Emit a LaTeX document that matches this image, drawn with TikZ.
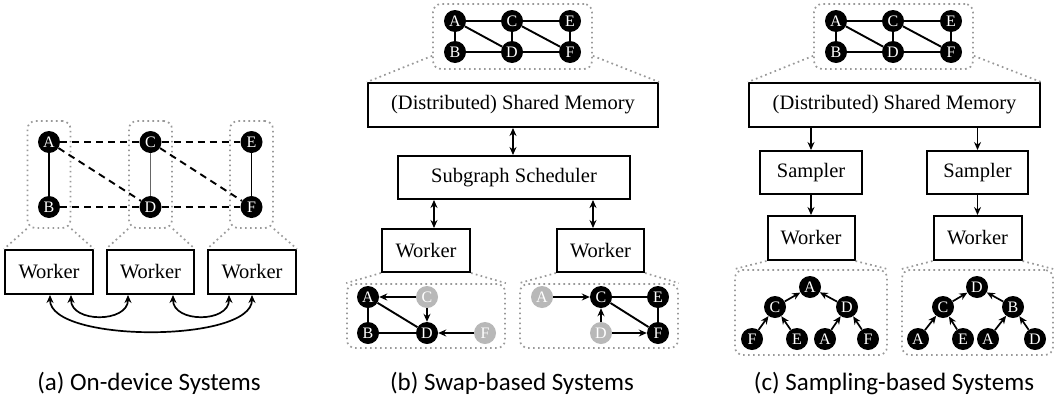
\documentclass[tikz,border=0pt]{standalone}
\usepackage{fontspec}
\setmainfont{Liberation Serif}
\newfontfamily\capfont{Carlito}
\usetikzlibrary{arrows.meta,calc}

\begin{document}
\begin{tikzpicture}[x=1pt,y=-1pt,
  vtx/.style={circle,fill=black,text=white,inner sep=0pt,minimum size=22pt,
    font=\fontsize{16}{16}\selectfont},
  gvtx/.style={vtx,fill=black!28},
  blk/.style={draw,line width=2pt,inner sep=0pt,font=\fontsize{20.5}{22}\selectfont},
  grp/.style={draw=black!40,line width=1.7pt,dash pattern=on 1.7pt off 3.3pt,
    rounded corners=8pt,inner sep=0pt},
  flare/.style={draw=black!40,line width=1.7pt,dash pattern=on 1.7pt off 3.3pt},
  sedge/.style={line width=1.9pt},
  dedge/.style={line width=1.9pt,dash pattern=on 7pt off 5pt},
  arr/.style={line width=1.7pt,-{Stealth[length=8pt,width=7pt]}},
  biarr/.style={line width=1.7pt,{Stealth[length=8pt,width=7pt]}-{Stealth[length=8pt,width=7pt]}},
  captxt/.style={font=\capfont\fontsize{25}{27}\selectfont}
]
\fill[white] (0,0) rectangle (1059,399);
\useasboundingbox (0,0) rectangle (1059,399);

% ---------------- (a) on-device ----------------
\node[grp,minimum width=43pt,minimum height=107pt] (ga1) at (49,174.5) {};
\node[grp,minimum width=43pt,minimum height=107pt] (ga2) at (150.5,174.5) {};
\node[grp,minimum width=43pt,minimum height=107pt] (ga3) at (251.5,174.5) {};

\node[vtx] (aA) at (49,142) {A};
\node[vtx] (aB) at (49,207) {B};
\node[vtx] (aC) at (150.5,142) {C};
\node[vtx] (aD) at (150.5,207) {D};
\node[vtx] (aE) at (251.5,142) {E};
\node[vtx] (aF) at (251.5,207) {F};

\draw[sedge] (aA) -- (aB);
\draw[sedge,black!60] (aC) -- (aD);
\draw[sedge] (aE) -- (aF);
\draw[dedge] (aA) -- (aC);
\draw[dedge] (aC) -- (aE);
\draw[dedge] (aB) -- (aD);
\draw[dedge] (aD) -- (aF);
\draw[dedge] (aA) -- (aD);
\draw[dedge] (aC) -- (aF);

\node[blk,minimum width=88pt,minimum height=44pt] (wa1) at (49,272) {Worker};
\node[blk,minimum width=87pt,minimum height=44pt] (wa2) at (150.5,272) {Worker};
\node[blk,minimum width=88pt,minimum height=44pt] (wa3) at (252,272) {Worker};

\draw[flare] (ga1.south west) -- (wa1.north west);
\draw[flare] (ga1.south east) -- (wa1.north east);
\draw[flare] (ga2.south west) -- (wa2.north west);
\draw[flare] (ga2.south east) -- (wa2.north east);
\draw[flare] (ga3.south west) -- (wa3.north west);
\draw[flare] (ga3.south east) -- (wa3.north east);

\draw[biarr] ([xshift=22pt]wa1.south) .. controls +(0,28) and +(0,28) .. ([xshift=-22.5pt]wa2.south);
\draw[biarr] ([xshift=22.5pt]wa2.south) .. controls +(0,28) and +(0,28) .. ([xshift=-23pt]wa3.south);
\draw[biarr] ([xshift=1pt]wa1.south) .. controls +(0,48) and +(0,48) .. (wa3.south);

\node[captxt] (capa) at (149,383) {(a) On-device Systems};

% ---------------- (b) swap-based ----------------
\node[grp,minimum width=159pt,minimum height=65pt] (gb) at (512.5,36.5) {};
\node[vtx] (bA) at (455,21) {A};
\node[vtx] (bC) at (512,21) {C};
\node[vtx] (bE) at (570,21) {E};
\node[vtx] (bB) at (455,52) {B};
\node[vtx] (bD) at (512,52) {D};
\node[vtx] (bF) at (570,52) {F};
\foreach \u/\v in {bA/bC,bC/bE,bA/bB,bA/bD,bC/bD,bC/bF,bE/bF,bB/bD,bD/bF}
  \draw[sedge] (\u) -- (\v);

\node[blk,minimum width=290pt,minimum height=44pt] (mb) at (513,105) {(Distributed) Shared Memory};
\draw[flare] ($(gb.south west)+(0,-14)$) -- (mb.north west);
\draw[flare] ($(gb.south east)+(0,-14)$) -- (mb.north east);

\node[blk,minimum width=232pt,minimum height=43pt] (sb) at (514,177.5) {Subgraph Scheduler};
\draw[biarr] (mb.south) -- (mb.south |- sb.north);

\node[blk,minimum width=88pt,minimum height=43pt] (wb1) at (426,250.5) {Worker};
\node[blk,minimum width=87pt,minimum height=43pt] (wb2) at (600.5,250.5) {Worker};
\coordinate (xb1) at (434,0);
\coordinate (xb2) at (593,0);
\draw[biarr] (sb.south -| xb1) -- (wb1.north -| xb1);
\draw[biarr] (sb.south -| xb2) -- (wb2.north -| xb2);

\node[grp,minimum width=158pt,minimum height=64pt] (gb1) at (426,316) {};
\node[grp,minimum width=158pt,minimum height=64pt] (gb2) at (599,316) {};
\draw[flare] (wb1.south west) -- (gb1.north west);
\draw[flare] (wb1.south east) -- (gb1.north east);
\draw[flare] (wb2.south west) -- (gb2.north west);
\draw[flare] (wb2.south east) -- (gb2.north east);

\node[vtx]  (lA) at (368,297) {A};
\node[gvtx] (lC) at (427,297) {C};
\node[vtx]  (lB) at (368,333) {B};
\node[vtx]  (lD) at (427,333) {D};
\node[gvtx] (lF) at (485,333) {F};
\draw[sedge] (lA) -- (lB);
\draw[sedge] (lA) -- (lD);
\draw[sedge] (lB) -- (lD);
\draw[arr] (lC) -- (lA);
\draw[arr] (lC) -- (lD);
\draw[arr] (lF) -- (lD);

\node[gvtx] (rA) at (542,297) {A};
\node[vtx]  (rC) at (601,297) {C};
\node[vtx]  (rE) at (658,297) {E};
\node[gvtx] (rD) at (601,333) {D};
\node[vtx]  (rF) at (658,333) {F};
\draw[sedge] (rC) -- (rE);
\draw[sedge] (rC) -- (rF);
\draw[sedge] (rE) -- (rF);
\draw[arr] (rA) -- (rC);
\draw[arr] (rD) -- (rC);
\draw[arr] (rD) -- (rF);

\node[captxt] (capb) at (512,383) {(b) Swap-based Systems};

% ---------------- (c) sampling-based ----------------
\node[grp,minimum width=159pt,minimum height=65pt] (gc) at (893.5,36.5) {};
\node[vtx] (cA) at (836,21) {A};
\node[vtx] (cC) at (893,21) {C};
\node[vtx] (cE) at (951,21) {E};
\node[vtx] (cB) at (836,52) {B};
\node[vtx] (cD) at (893,52) {D};
\node[vtx] (cF) at (951,52) {F};
\foreach \u/\v in {cA/cC,cC/cE,cA/cB,cA/cD,cC/cD,cC/cF,cE/cF,cB/cD,cD/cF}
  \draw[sedge] (\u) -- (\v);

\node[blk,minimum width=291pt,minimum height=44pt] (mc) at (894.5,105) {(Distributed) Shared Memory};
\draw[flare] ($(gc.south west)+(0,-14)$) -- (mc.north west);
\draw[flare] ($(gc.south east)+(0,-14)$) -- (mc.north east);

\node[blk,minimum width=102pt,minimum height=43pt] (sc1) at (811,172.5) {Sampler};
\node[blk,minimum width=101pt,minimum height=43pt] (sc2) at (977.5,172.5) {Sampler};
\draw[arr] (mc.south -| sc1.north) -- (sc1.north);
\draw[arr] (mc.south -| sc2.north) -- (sc2.north);

\node[blk,minimum width=87pt,minimum height=44pt] (wc1) at (811,238) {Worker};
\node[blk,minimum width=88pt,minimum height=44pt] (wc2) at (977.5,238) {Worker};
\draw[arr] (sc1.south) -- (sc1.south |- wc1.north);
\draw[arr] (sc2.south) -- (sc2.south |- wc2.north);

\node[grp,minimum width=152pt,minimum height=85pt] (tc1) at (811,312.5) {};
\node[grp,minimum width=151pt,minimum height=85pt] (tc2) at (977.5,312.5) {};
\draw[flare] (wc1.south west) -- (tc1.north west);
\draw[flare] (wc1.south east) -- (tc1.north east);
\draw[flare] (wc2.south west) -- (tc2.north west);
\draw[flare] (wc2.south east) -- (tc2.north east);

\node[vtx] (t1a)  at (810,287) {A};
\node[vtx] (t1c)  at (775,307) {C};
\node[vtx] (t1d)  at (847,307) {D};
\node[vtx] (t1f)  at (752,339) {F};
\node[vtx] (t1e)  at (797,339) {E};
\node[vtx] (t1a2) at (825,339) {A};
\node[vtx] (t1f2) at (868,339) {F};
\draw[arr] (t1c) -- (t1a);
\draw[arr] (t1d) -- (t1a);
\draw[arr] (t1f) -- (t1c);
\draw[arr] (t1e) -- (t1c);
\draw[arr] (t1a2) -- (t1d);
\draw[arr] (t1f2) -- (t1d);

\node[vtx] (t2d)  at (977,287) {D};
\node[vtx] (t2c)  at (943,307) {C};
\node[vtx] (t2b)  at (1013,307) {B};
\node[vtx] (t2a)  at (918,339) {A};
\node[vtx] (t2e)  at (963,339) {E};
\node[vtx] (t2a2) at (988,339) {A};
\node[vtx] (t2d2) at (1035,339) {D};
\draw[arr] (t2c) -- (t2d);
\draw[arr] (t2b) -- (t2d);
\draw[arr] (t2a) -- (t2c);
\draw[arr] (t2e) -- (t2c);
\draw[arr] (t2a2) -- (t2b);
\draw[arr] (t2d2) -- (t2b);

\node[captxt] (capc) at (894,383) {(c) Sampling-based Systems};
\end{tikzpicture}
\end{document}
